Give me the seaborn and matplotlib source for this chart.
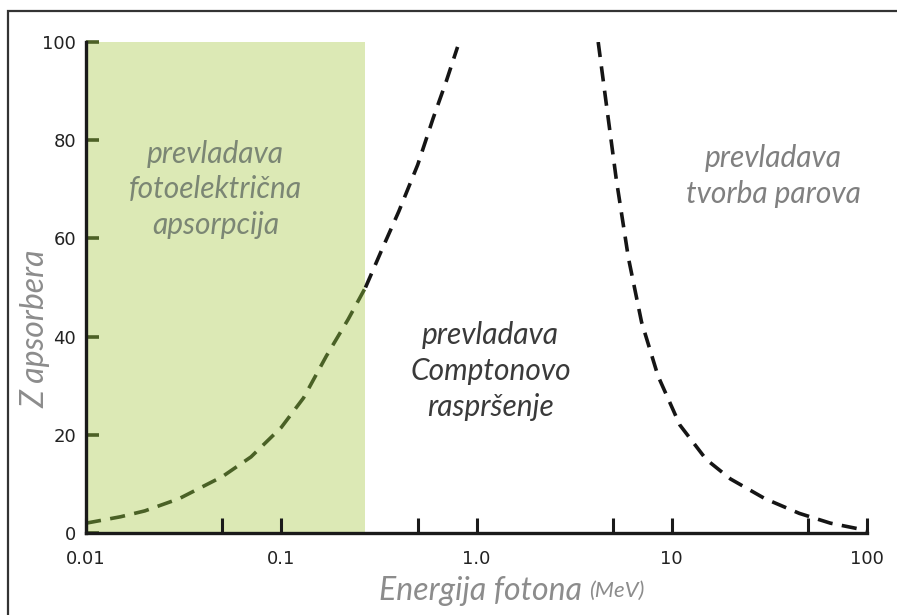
import matplotlib
matplotlib.use("Agg")
import matplotlib.pyplot as plt
import matplotlib.patches as patches
import seaborn as sns

# curve readings (energy in MeV, Z of absorber)
photo_x = [0.01, 0.015, 0.02, 0.03, 0.05, 0.07, 0.1, 0.13, 0.17, 0.22, 0.27]
photo_y = [2, 3.3, 4.5, 7, 11.5, 15.5, 21.5, 27.5, 36, 43.5, 50]
photo_hi_x = [0.27, 0.33, 0.4, 0.5, 0.6, 0.7, 0.8]
photo_hi_y = [50, 58, 65.5, 75, 84.5, 92, 99]
pair_x = [4.2, 4.6, 5.2, 6.0, 7.0, 8.5, 11, 15, 20, 30, 45, 65, 100]
pair_y = [100, 88, 72, 56, 43, 32, 22, 15, 11, 7, 4, 2, 0.5]

photo_region = (0.01, 0.27)
x_major = [0.01, 0.1, 1, 10, 100]
x_labels = ["0.01", "0.1", "1.0", "10", "100"]
x_minor = [0.05, 0.5, 5, 50]
y_ticks = [0, 20, 40, 60, 80, 100]

sns.set_theme(style="white")
plt.rcParams['font.family'] = ['DejaVu Sans']
ital = ['Lato', 'DejaVu Sans']

fig = plt.figure(figsize=(8.97, 6.15), dpi=100)
ax = fig.add_axes([86 / 897, 1 - 533 / 615, (867 - 86) / 897, (533 - 42) / 615])

# green region where photoelectric absorption dominates
ax.axvspan(photo_region[0], photo_region[1], ymin=0, ymax=1, color='#dce9b5', lw=0, zorder=0)

dash = (0, (4.2, 2.6))
sns.lineplot(x=photo_x, y=photo_y, ax=ax, color='#4a6126', lw=2.6, linestyle=dash, sort=False)
sns.lineplot(x=photo_hi_x, y=photo_hi_y, ax=ax, color='#151515', lw=2.6, linestyle=dash, sort=False)
sns.lineplot(x=pair_x, y=pair_y, ax=ax, color='#151515', lw=2.6, linestyle=dash, sort=False)

ax.set_xscale('log')
ax.set_xlim(0.01, 100)
ax.set_ylim(0, 100)
ax.set_xticks(x_major)
ax.set_xticklabels(x_labels)
ax.set_xticks(x_minor, minor=True)
ax.set_yticks(y_ticks)
ax.set_yticklabels([str(v) for v in y_ticks])

for s in ['top', 'right']:
    ax.spines[s].set_visible(False)
for s in ['left', 'bottom']:
    ax.spines[s].set_color('#1a1a1a')
    ax.spines[s].set_linewidth(2.4)

ax.tick_params(axis='x', which='both', direction='in', length=11, width=2.2, color='#1a1a1a',
               labelsize=13, labelcolor='#222222', pad=12, bottom=True)
ax.tick_params(axis='y', direction='in', length=9, width=2.6, color='#4d6126',
               labelsize=13, labelcolor='#222222', pad=7, left=True)
ax.grid(False)

ax.text(0.046, 70, "prevladava\nfotoelektrična\napsorpcija", fontsize=21.5, color='#7b8674',
        linespacing=1.33, family=ital, style='italic', ha='center', va='center')
ax.text(1.18, 33, "prevladava\nComptonovo\nraspršenje", fontsize=21.5, color='#3a3a3a',
        linespacing=1.33, family=ital, style='italic', ha='center', va='center')
ax.text(33, 72.7, "prevladava\ntvorba parova", fontsize=21.5, color='#808080',
        linespacing=1.33, family=ital, style='italic', ha='center', va='center')

fig.text(35 / 897, 1 - 329 / 615, "Z apsorbera", fontsize=23, color='#8c8c8c', style='italic',
         family=ital, rotation=90, ha='center', va='center')
fig.text(582 / 897, 1 - 591 / 615, "Energija fotona", fontsize=23, color='#8c8c8c',
         style='italic', family=ital, ha='right', va='center')
fig.text(589 / 897, 1 - 591 / 615, "(MeV)", fontsize=16, color='#8c8c8c',
         style='italic', family=ital, ha='left', va='center')

# frame around the figure
fig.add_artist(patches.Rectangle((8 / 897, -0.02), 1.0, 1 - 11 / 615 + 0.02,
                                 transform=fig.transFigure, fill=False,
                                 edgecolor='#333333', lw=1.6))

fig.savefig("out.png", dpi=100)
